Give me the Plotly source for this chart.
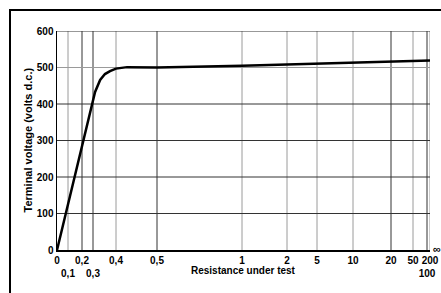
import numpy as np
import plotly.graph_objects as go

# Resistance-scale ticks (custom non-linear scale of the original chart)
TICK_R = [0, 0.1, 0.2, 0.3, 0.4, 0.5, 1, 2, 5, 10, 20, 50, 100, 200]
TICK_LABELS = ["0", "<br>0,1", "0,2", "<br>0,3", "0,4", "0,5", "1", "2", "5", "10", "20", "50", "<br>100", "200"]
TICK_POS = [0, 11, 25, 36, 59, 100, 185, 230, 260, 296, 334, 356, 370, 373]
DARK_X = [0.2, 0.3, 0.5, 20, 100]
GRAY_X = [0.1, 0.4, 1, 2, 5, 10, 50, 200]

Y_TICKS = [0, 100, 200, 300, 400, 500, 600]
DARK_Y = [100, 200, 300, 400, 600]
GRAY_Y = [500]

# Curve
RESIST = [0, 0.1, 0.143, 0.2, 0.3, 0.309, 0.331, 0.352, 0.374, 0.4, 0.427, 0.5, 1, 2, 5, 10, 20, 50, 100, 200]
VOLTS = [0, 124, 192, 282, 411, 433, 466, 482, 490, 497, 501, 500, 505, 508, 511, 513, 515, 517, 518, 519]


def scale(r):
    return np.interp(r, TICK_R, TICK_POS)


fig = go.Figure()
fig.add_trace(go.Scatter(x=scale(RESIST), y=VOLTS, mode="lines",
                         line=dict(color="black", width=2.5), hoverinfo="skip"))

shapes = []
for r in DARK_X:
    shapes.append(dict(type="line", xref="x", yref="paper", x0=float(scale(r)), x1=float(scale(r)),
                       y0=0, y1=1, line=dict(color="#333333", width=1), layer="below"))
for r in GRAY_X:
    shapes.append(dict(type="line", xref="x", yref="paper", x0=float(scale(r)), x1=float(scale(r)),
                       y0=0, y1=1, line=dict(color="#9a9a9a", width=1), layer="below"))
for v in DARK_Y:
    shapes.append(dict(type="line", xref="paper", yref="y", x0=0, x1=1, y0=v, y1=v,
                       line=dict(color="#333333", width=1), layer="below"))
for v in GRAY_Y:
    shapes.append(dict(type="line", xref="paper", yref="y", x0=0, x1=1, y0=v, y1=v,
                       line=dict(color="#9a9a9a", width=1), layer="below"))
# outer frame
shapes.append(dict(type="rect", xref="paper", yref="paper", x0=-0.126, x1=1.3, y0=-0.6, y1=1.096,
                   line=dict(color="black", width=2)))

fig.update_layout(
    width=441, height=293,
    margin=dict(l=57, r=11, t=31, b=43),
    paper_bgcolor="white", plot_bgcolor="white",
    showlegend=False,
    shapes=shapes,
    font=dict(family="Liberation Sans, Arial, sans-serif", size=10, color="black"),
    xaxis=dict(range=[0, 373], tickmode="array", tickvals=[float(scale(r)) for r in TICK_R],
               ticktext=TICK_LABELS, showgrid=False, zeroline=False, showline=True,
               linecolor="black", linewidth=1.5, ticks="", ticklen=0,
               tickfont=dict(size=10, weight="bold"), tickangle=0, fixedrange=True,
               automargin=False),
    yaxis=dict(range=[0, 600], tickmode="array", tickvals=Y_TICKS, showgrid=False,
               zeroline=False, showline=True, linecolor="black", linewidth=1.5, ticks="",
               tickfont=dict(size=10, weight="bold"), fixedrange=True, automargin=False),
    annotations=[
        dict(text="Terminal voltage (volts d.c.)", xref="paper", yref="paper", x=0, y=0.5,
             xshift=-30, textangle=-90, showarrow=False, xanchor="center", yanchor="middle",
             font=dict(size=11, weight="bold")),
        dict(text="Resistance under test", xref="paper", yref="paper", x=0.5, y=0,
             yshift=-20, showarrow=False, xanchor="center", yanchor="middle",
             font=dict(size=10, weight="bold")),
        dict(text="∞", xref="x", yref="paper", x=float(scale(200)), y=0, xshift=7, yshift=1,
             showarrow=False, xanchor="center", yanchor="middle",
             font=dict(size=11, weight="bold")),
    ],
)

fig.write_html("out.html", config={"displayModeBar": False, "staticPlot": True},
               post_script="document.body.style.margin='0';")
